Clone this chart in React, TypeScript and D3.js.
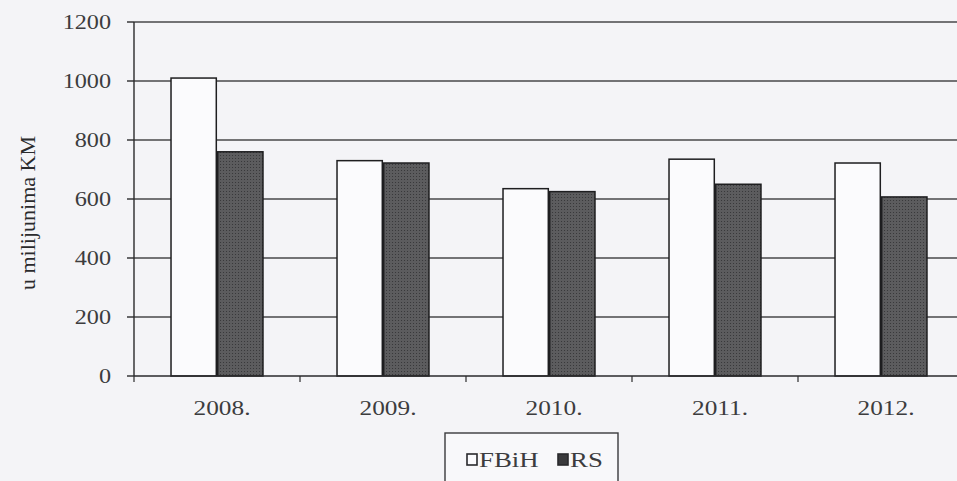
import { useEffect, useRef } from 'react'
import * as d3 from 'd3'

const YEARS = ['2008.', '2009.', '2010.', '2011.', '2012.']
const SERIES = ['FBiH', 'RS']
const FBIH = [1010, 730, 635, 735, 722]
const RS = [760, 722, 625, 650, 607]
const Y_TICKS = [0, 200, 400, 600, 800, 1000, 1200]

const W = 957
const H = 481
const MARGIN = { top: 22, left: 134, bottom: 105 }
const BAND = 166
const FONT = '"Liberation Serif", "Times New Roman", serif'
const INK = '#3c3c3e'

export default function App() {
  const svgRef = useRef<SVGSVGElement>(null)

  useEffect(() => {
    const svg = d3.select(svgRef.current)
    svg.selectAll('*').remove()

    const iH = H - MARGIN.top - MARGIN.bottom
    const plotW = BAND * YEARS.length
    const x0 = d3.scaleBand<string>()
      .domain(YEARS)
      .range([0, plotW])
      .paddingInner(0.446)
      .paddingOuter(0.223)
    const x1 = d3.scaleBand<string>()
      .domain(SERIES)
      .range([0, x0.bandwidth()])
      .paddingInner(0.03)
    const y = d3.scaleLinear().domain([0, 1200]).range([iH, 0])

    const fills: Record<string, string> = { FBiH: '#fbfbfd', RS: 'url(#stip)' }

    // stipple pattern for the dark series
    const pat = svg.append('defs').append('pattern')
      .attr('id', 'stip').attr('width', 3).attr('height', 3)
      .attr('patternUnits', 'userSpaceOnUse')
    pat.append('rect').attr('width', 3).attr('height', 3).attr('fill', '#5c5c5e')
    pat.append('rect').attr('x', 1).attr('y', 1).attr('width', 1).attr('height', 1).attr('fill', '#38383a')

    svg.append('rect').attr('width', W).attr('height', H).attr('fill', '#f4f4f7')

    const g = svg.append('g').attr('transform', `translate(${MARGIN.left},${MARGIN.top})`)

    // gridlines
    g.append('g')
      .selectAll('line')
      .data(Y_TICKS.filter(d => d > 0))
      .join('line')
      .attr('x1', 0).attr('x2', plotW)
      .attr('y1', d => y(d)).attr('y2', d => y(d))
      .attr('stroke', '#48484a').attr('stroke-width', 1.4)

    // bars
    const rows = YEARS.map((yr, i) => ({ yr, vals: [FBIH[i], RS[i]] }))
    g.append('g')
      .selectAll('g')
      .data(rows)
      .join('g')
      .attr('transform', d => `translate(${x0(d.yr)},0)`)
      .selectAll('rect')
      .data(d => d.vals.map((v, k) => ({ key: SERIES[k], v })))
      .join('rect')
      .attr('x', d => x1(d.key)!)
      .attr('width', x1.bandwidth())
      .attr('y', d => y(d.v))
      .attr('height', d => y(0) - y(d.v))
      .attr('fill', d => fills[d.key])
      .attr('stroke', '#1e1e20').attr('stroke-width', 1.5)

    // y axis
    const ya = g.append('g')
    ya.append('line').attr('y1', 0).attr('y2', iH)
      .attr('stroke', '#2a2a2c').attr('stroke-width', 1.4)
    ya.selectAll('line.tk')
      .data(Y_TICKS)
      .join('line').attr('class', 'tk')
      .attr('x1', -7).attr('x2', 0)
      .attr('y1', d => y(d)).attr('y2', d => y(d))
      .attr('stroke', '#2a2a2c').attr('stroke-width', 1.4)
    ya.selectAll('text')
      .data(Y_TICKS)
      .join('text')
      .attr('transform', d => `translate(-23,${y(d) + 7}) scale(1.1,1)`)
      .attr('text-anchor', 'end')
      .attr('font-size', 22).attr('fill', INK).attr('font-family', FONT)
      .text(d => d)

    // x axis
    const xa = g.append('g').attr('transform', `translate(0,${iH})`)
    xa.append('line').attr('x1', 0).attr('x2', plotW)
      .attr('stroke', '#2a2a2c').attr('stroke-width', 1.5)
    xa.selectAll('line.tk')
      .data(d3.range(YEARS.length + 1))
      .join('line').attr('class', 'tk')
      .attr('x1', d => d * BAND).attr('x2', d => d * BAND)
      .attr('y1', 0).attr('y2', 6)
      .attr('stroke', '#2a2a2c').attr('stroke-width', 1.2)
    xa.selectAll('text')
      .data(YEARS)
      .join('text')
      .attr('transform', d => `translate(${x0(d)! + x0.bandwidth() / 2 + 5},39) scale(1.15,1)`)
      .attr('text-anchor', 'middle')
      .attr('font-size', 22).attr('fill', INK).attr('font-family', FONT)
      .text(d => d)

    // y title
    svg.append('text')
      .attr('transform', `translate(35,${MARGIN.top + iH / 2 + 14}) rotate(-90)`)
      .attr('text-anchor', 'middle')
      .attr('font-size', 22).attr('fill', '#2a2a2c').attr('font-family', FONT)
      .text('u milijunima KM')

    // legend
    const lg = svg.append('g').attr('transform', 'translate(445,433)')
    lg.append('rect').attr('width', 173).attr('height', 60)
      .attr('fill', '#f8f8fa').attr('stroke', '#3a3a3c').attr('stroke-width', 1.4)
    const items = lg.selectAll('g')
      .data(SERIES)
      .join('g')
      .attr('transform', (_, i) => `translate(${22 + i * 91},21)`)
    items.append('rect')
      .attr('width', 10).attr('height', 11)
      .attr('fill', d => d === 'RS' ? '#3a3a3c' : '#fbfbfd')
      .attr('stroke', '#2a2a2c').attr('stroke-width', 1.6)
    items.append('text')
      .attr('transform', 'translate(12,13) scale(1.22,1)')
      .attr('font-size', 22).attr('fill', INK).attr('font-family', FONT)
      .text(d => d)
  }, [])

  return (
    <svg ref={svgRef} width={W} height={H}
      style={{ position: 'absolute', left: 0, top: 0, display: 'block' }} />
  )
}
